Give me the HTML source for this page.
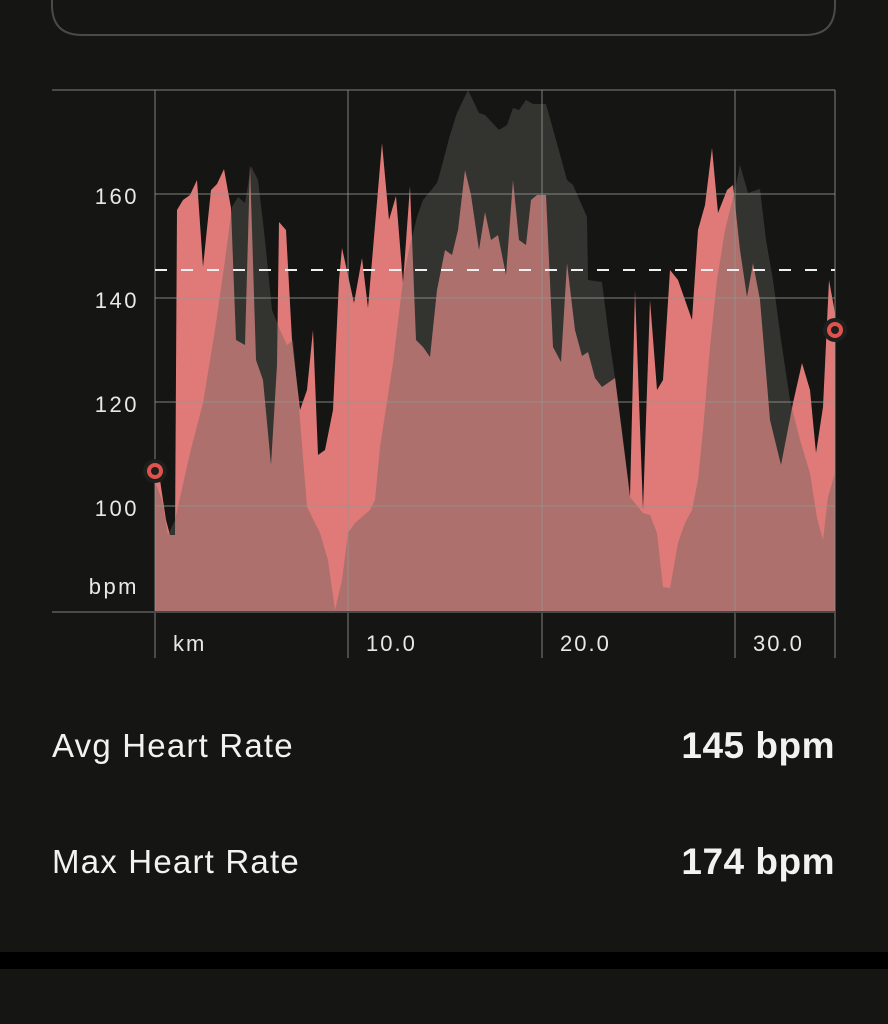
<!DOCTYPE html>
<html><head><style>
body{margin:0;background:#151513;width:888px;height:1024px;overflow:hidden;font-family:"Liberation Sans",sans-serif;}
</style></head><body>
<svg width="888" height="1024" xmlns="http://www.w3.org/2000/svg" style="position:absolute;left:0;top:0">
<rect x="0" y="0" width="888" height="1024" fill="#151513"/>
<path d="M52,-40 L52,5 Q52,35 82,35 L805,35 Q835,35 835,5 L835,-40" fill="none" stroke="#4a4a48" stroke-width="2"/>
<polygon fill="#e07a78" points="155,612 155,470 160,480 166,520 170,535 175,535 177,210 183,200 190,195 197,180 203,267 211,190 217,184 224,169 231,208 236,340 245,345 250,165 256,360 263,380 271,465 277,365 279,222 286,230 292,340 300,410 307,390 313,330 318,455 325,450 333,410 339,280 342,248 354,303 362,258 368,308 382,143 389,220 396,196 403,283 410,186 416,340 423,347 430,357 437,290 445,250 452,255 458,230 465,170 471,195 479,250 485,212 491,240 498,235 506,275 513,180 519,240 526,245 531,200 537,195 546,195 553,347 561,362 567,263 575,330 582,356 588,352 595,378 602,387 615,378 628,480 630,497 635,290 643,510 650,300 657,390 663,380 670,270 678,280 685,300 692,320 698,230 705,205 712,148 718,213 727,190 733,185 740,250 747,297 753,263 760,300 770,420 781,465 793,403 802,363 810,390 816,453 823,407 829,280 835,313 835,612"/>
<polygon fill="rgba(98,98,92,0.4)" points="155,612 155,482 162,500 168,535 175,520 190,453 203,403 215,330 225,260 232,207 238,197 245,203 251,166 258,180 265,240 272,310 280,330 287,345 293,340 300,420 307,507 320,533 328,560 335,610 342,580 348,533 355,523 370,510 375,500 380,447 393,363 403,280 410,245 417,217 423,200 437,183 440,173 450,135 457,113 468,90 479,113 485,115 499,130 507,125 513,108 519,110 526,100 533,104 546,104 556,140 567,180 573,185 587,217 588,280 602,282 608,330 615,378 622,430 630,497 643,513 650,515 657,533 663,587 670,588 678,543 685,523 692,510 698,480 703,430 710,347 717,280 725,230 735,190 740,165 748,193 760,189 766,240 773,280 781,340 790,400 800,440 810,473 817,518 823,540 828,497 835,473 835,612"/>
<g stroke="rgba(150,150,148,0.55)" stroke-width="1.5" fill="none">
<line x1="52" y1="90" x2="835" y2="90"/>
<line x1="155" y1="194" x2="835" y2="194"/>
<line x1="155" y1="298" x2="835" y2="298"/>
<line x1="155" y1="402" x2="835" y2="402"/>
<line x1="155" y1="506" x2="835" y2="506"/>
<line x1="155" y1="90" x2="155" y2="658"/>
<line x1="348" y1="90" x2="348" y2="658"/>
<line x1="542" y1="90" x2="542" y2="658"/>
<line x1="735" y1="90" x2="735" y2="658"/>
<line x1="835" y1="90" x2="835" y2="658"/>
</g>
<line x1="52" y1="612" x2="835" y2="612" stroke="#4a4a48" stroke-width="2"/>
<line x1="155" y1="270" x2="835" y2="270" stroke="#f0f0f0" stroke-width="2" stroke-dasharray="12,14"/>
<g fill="#e8e8e6" font-family="Liberation Sans, sans-serif" font-size="22" letter-spacing="2.5" text-anchor="end">
<text x="139" y="204">160</text>
<text x="139" y="308">140</text>
<text x="139" y="412">120</text>
<text x="139" y="516">100</text>
<text x="139" y="594">bpm</text>
</g>
<g fill="#e8e8e6" font-family="Liberation Sans, sans-serif" font-size="22" letter-spacing="2">
<text x="173" y="651">km</text>
<text x="366" y="651">10.0</text>
<text x="560" y="651">20.0</text>
<text x="753" y="651">30.0</text>
</g>
<circle cx="155" cy="471" r="12" fill="#1e1e1c"/>
<circle cx="155" cy="471" r="8" fill="#e0524e"/>
<circle cx="155" cy="471" r="4" fill="#1e1e1c"/>
<circle cx="835" cy="330" r="12" fill="#1e1e1c"/>
<circle cx="835" cy="330" r="8" fill="#e0524e"/>
<circle cx="835" cy="330" r="4" fill="#1e1e1c"/>
<g font-family="Liberation Sans, sans-serif" fill="#f2f2f0">
<text x="52" y="757" font-size="33" letter-spacing="1.2">Avg Heart Rate</text>
<text x="835" y="758" font-size="37" font-weight="bold" text-anchor="end" letter-spacing="0.5">145 bpm</text>
<text x="52" y="873" font-size="33" letter-spacing="1.2">Max Heart Rate</text>
<text x="835" y="874" font-size="37" font-weight="bold" text-anchor="end" letter-spacing="0.5">174 bpm</text>
</g>
<rect x="0" y="952" width="888" height="17" fill="#000"/>
</svg>
</body></html>
